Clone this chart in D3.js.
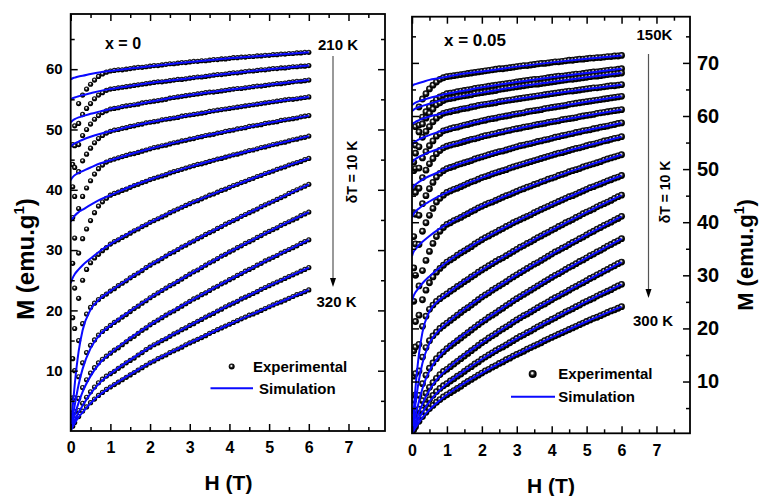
<!DOCTYPE html>
<html><head><meta charset="utf-8">
<script src="https://cdn.jsdelivr.net/npm/d3@7"></script>
<style>
body{margin:0;background:#fff}
svg text{font-family:"Liberation Sans",Arial,Helvetica,sans-serif;font-weight:bold;fill:#000}
</style>
</head><body>
<svg id="chart" width="762" height="496"></svg>
<script>
// ---------- data ----------
const EXP_H = [0.05,0.1,0.2,0.3,0.4,0.5,0.6,0.7,0.8,0.9,1.0,1.1,1.2,1.3,1.4,1.5,1.6,1.7,1.8,1.9,2.0,2.1,2.2,2.3,2.4,2.5,2.6,2.7,2.8,2.9,3.0,3.1,3.2,3.3,3.4,3.5,3.6,3.7,3.8,3.9,4.0,4.1,4.2,4.3,4.4,4.5,4.6,4.7,4.8,4.9,5.0,5.1,5.2,5.3,5.4,5.5,5.6,5.7,5.8,5.9,6.0];
const SIM_H = [0,0.05,0.1,0.2,0.3,0.5,0.75,1,1.5,2,3,4,5,6];
const X_TICKS = [0,1,2,3,4,5,6,7];
const X_MINOR = [0.5,1.5,2.5,3.5,4.5,5.5,6.5,7.5];
const YL_TICKS = [10,20,30,40,50,60];
const YL_MINOR = [5,15,25,35,45,55,65];
const YR_TICKS = [10,20,30,40,50,60,70];
const YR_MINOR = [5,15,25,35,45,55,65,75];
const LEFT_T = [210,220,230,240,250,260,270,280,290,300,310,320];
const RIGHT_T = [150,160,170,180,190,200,210,220,230,240,250,260,270,280,290,300];

// x = 0 : experimental
const expL210 = [47.5,50.6,54.3,55.7,56.7,57.5,58.2,58.8,59.2,59.5,59.7,59.8,59.9,59.9,60.0,60.1,60.2,60.3,60.3,60.4,60.5,60.6,60.6,60.7,60.8,60.9,60.9,61.0,61.1,61.1,61.2,61.3,61.3,61.4,61.4,61.5,61.6,61.6,61.7,61.7,61.8,61.9,61.9,62.0,62.0,62.1,62.1,62.2,62.2,62.3,62.3,62.4,62.4,62.5,62.5,62.6,62.6,62.7,62.7,62.8,62.8];
const expL220 = [44.2,47.3,51.0,52.5,53.5,54.3,55.1,55.7,56.1,56.5,56.7,56.8,56.9,57.0,57.1,57.2,57.3,57.4,57.5,57.6,57.7,57.8,57.9,57.9,58.0,58.1,58.2,58.3,58.3,58.4,58.5,58.6,58.7,58.7,58.8,58.9,59.0,59.1,59.1,59.2,59.3,59.4,59.4,59.5,59.6,59.7,59.7,59.8,59.9,59.9,60.0,60.1,60.1,60.2,60.2,60.3,60.4,60.4,60.5,60.5,60.6];
const expL230 = [40.5,43.7,47.5,49.0,50.0,50.9,51.7,52.3,52.8,53.1,53.4,53.5,53.6,53.8,53.9,54.0,54.1,54.2,54.4,54.5,54.6,54.7,54.8,54.9,55.0,55.2,55.3,55.4,55.5,55.6,55.7,55.8,55.9,56.0,56.1,56.2,56.2,56.3,56.4,56.5,56.6,56.7,56.8,56.8,56.9,57.0,57.1,57.2,57.2,57.3,57.4,57.5,57.6,57.6,57.7,57.8,57.9,58.0,58.0,58.1,58.2];
const expL240 = [35.4,38.9,43.0,44.8,45.9,46.9,47.8,48.5,49.0,49.4,49.7,49.9,50.0,50.2,50.3,50.5,50.6,50.8,50.9,51.1,51.2,51.3,51.4,51.6,51.7,51.8,51.9,52.0,52.2,52.3,52.4,52.5,52.6,52.7,52.8,53.0,53.1,53.2,53.3,53.4,53.5,53.6,53.7,53.8,53.9,54.0,54.1,54.2,54.3,54.4,54.5,54.6,54.7,54.8,54.9,55.0,55.0,55.1,55.2,55.3,55.4];
const expL250 = [27.8,32.0,36.9,38.9,40.3,41.5,42.6,43.5,44.1,44.6,44.9,45.1,45.3,45.5,45.7,45.9,46.0,46.2,46.4,46.6,46.8,47.0,47.1,47.3,47.4,47.6,47.8,47.9,48.1,48.2,48.4,48.5,48.7,48.8,49.0,49.1,49.2,49.4,49.5,49.7,49.8,49.9,50.1,50.2,50.3,50.5,50.6,50.7,50.8,51.0,51.1,51.2,51.3,51.5,51.6,51.7,51.8,51.9,52.1,52.2,52.3];
const expL260 = [18.8,23.7,29.5,31.9,33.5,34.9,36.2,37.3,38.0,38.6,39.1,39.4,39.6,39.9,40.1,40.4,40.7,40.9,41.2,41.4,41.7,41.9,42.1,42.3,42.5,42.8,43.0,43.2,43.4,43.6,43.8,44.0,44.2,44.3,44.5,44.7,44.9,45.1,45.2,45.4,45.6,45.8,45.9,46.1,46.3,46.5,46.6,46.8,47.0,47.1,47.3,47.5,47.6,47.8,47.9,48.1,48.3,48.4,48.6,48.7,48.9];
const expL270 = [12.0,17.0,22.0,25.0,26.8,27.9,28.7,29.3,29.9,30.4,31.0,31.4,31.7,32.1,32.4,32.8,33.2,33.5,33.9,34.2,34.6,34.9,35.2,35.5,35.8,36.2,36.5,36.8,37.1,37.4,37.7,38.0,38.2,38.5,38.8,39.1,39.3,39.6,39.9,40.1,40.4,40.7,40.9,41.2,41.4,41.7,41.9,42.2,42.4,42.7,42.9,43.1,43.4,43.6,43.8,44.1,44.3,44.5,44.7,45.0,45.2];
const expL280 = [5.5,10.0,15.0,17.8,19.4,20.5,21.2,21.8,22.3,22.7,23.2,23.6,24.1,24.5,24.9,25.4,25.8,26.2,26.6,27.1,27.5,27.9,28.2,28.6,29.0,29.4,29.7,30.1,30.5,30.8,31.2,31.5,31.9,32.2,32.6,32.9,33.2,33.6,33.9,34.3,34.6,34.9,35.2,35.6,35.9,36.2,36.5,36.8,37.2,37.5,37.8,38.1,38.4,38.7,39.0,39.4,39.7,40.0,40.3,40.6,40.9];
const expL290 = [3.0,5.5,9.0,11.3,13.0,14.2,15.1,15.9,16.5,17.0,17.5,18.0,18.4,18.9,19.3,19.8,20.3,20.7,21.2,21.6,22.1,22.5,22.9,23.3,23.7,24.1,24.4,24.8,25.2,25.6,26.0,26.4,26.7,27.1,27.5,27.9,28.2,28.6,29.0,29.3,29.7,30.0,30.4,30.7,31.1,31.4,31.7,32.1,32.4,32.8,33.1,33.4,33.7,34.1,34.4,34.7,35.0,35.3,35.7,36.0,36.3];
const expL300 = [1.7,3.2,5.4,7.2,8.5,9.6,10.5,11.3,11.9,12.4,12.9,13.4,13.8,14.3,14.8,15.3,15.7,16.2,16.7,17.1,17.6,18.0,18.4,18.8,19.2,19.6,19.9,20.3,20.7,21.1,21.5,21.9,22.2,22.6,22.9,23.3,23.7,24.0,24.4,24.7,25.1,25.4,25.8,26.1,26.5,26.8,27.1,27.5,27.8,28.2,28.5,28.8,29.1,29.5,29.8,30.1,30.4,30.7,31.1,31.4,31.7];
const expL310 = [1.2,2.0,3.4,4.6,5.6,6.5,7.3,8.0,8.6,9.1,9.5,9.9,10.4,10.8,11.3,11.7,12.1,12.6,13.0,13.5,13.9,14.3,14.6,15.0,15.3,15.7,16.1,16.4,16.8,17.1,17.5,17.8,18.2,18.5,18.9,19.2,19.5,19.9,20.2,20.6,20.9,21.2,21.5,21.9,22.2,22.5,22.8,23.1,23.5,23.8,24.1,24.4,24.7,25.0,25.3,25.6,25.9,26.2,26.5,26.8,27.1];
const expL320 = [0.8,1.4,2.4,3.3,4.0,4.7,5.3,5.9,6.4,6.9,7.3,7.7,8.1,8.5,8.9,9.3,9.7,10.1,10.5,10.9,11.3,11.6,12.0,12.3,12.6,13.0,13.3,13.6,13.9,14.3,14.6,14.9,15.2,15.5,15.8,16.2,16.5,16.8,17.1,17.4,17.7,18.0,18.3,18.6,18.9,19.2,19.4,19.7,20.0,20.3,20.6,20.9,21.2,21.4,21.7,22.0,22.3,22.6,22.8,23.1,23.4];

// x = 0 : simulation (at SIM_H)
const simL210 = [58.3,58.5,58.6,58.8,58.9,59.2,59.5,59.7,60.1,60.5,61.2,61.8,62.3,62.8];
const simL220 = [54.9,55.2,55.3,55.5,55.7,56.0,56.4,56.7,57.2,57.7,58.5,59.3,60.0,60.6];
const simL230 = [51.2,51.5,51.7,52.0,52.2,52.6,53.0,53.4,54.0,54.6,55.7,56.6,57.4,58.2];
const simL240 = [47.1,47.5,47.7,48.0,48.3,48.8,49.3,49.7,50.5,51.2,52.4,53.5,54.5,55.4];
const simL250 = [41.6,42.1,42.4,42.8,43.1,43.7,44.4,44.9,45.9,46.8,48.4,49.8,51.1,52.3];
const simL260 = [34.7,35.3,35.7,36.3,36.7,37.5,38.4,39.1,40.5,41.7,43.8,45.6,47.3,48.9];
const simL270 = [24.5,25.4,26.0,26.8,27.5,28.6,29.9,31.0,32.9,34.6,37.7,40.4,42.9,45.2];
const simL280 = [0,4.0,7.6,13.2,16.7,20.1,22.0,23.2,25.4,27.5,31.2,34.6,37.8,40.9];
const simL290 = [0,2.3,4.2,7.7,10.3,13.7,16.1,17.5,19.9,22.1,26.0,29.7,33.1,36.3];
const simL300 = [0,1.4,2.6,4.7,6.5,9.1,11.4,12.9,15.4,17.6,21.5,25.1,28.5,31.7];
const simL310 = [0,1.0,1.7,3.1,4.2,6.2,8.1,9.5,11.8,13.9,17.5,20.9,24.1,27.1];
const simL320 = [0,0.7,1.3,2.3,3.1,4.6,6.1,7.3,9.4,11.3,14.6,17.7,20.6,23.4];

// x = 0.05 : experimental
const expR150 = [54.9,58.0,61.7,63.2,64.2,65.1,65.8,66.4,66.9,67.2,67.4,67.5,67.6,67.7,67.8,67.9,68.0,68.1,68.2,68.3,68.4,68.5,68.6,68.7,68.8,68.9,68.9,69.0,69.1,69.2,69.3,69.4,69.5,69.5,69.6,69.7,69.8,69.9,69.9,70.0,70.1,70.2,70.2,70.3,70.4,70.5,70.5,70.6,70.7,70.7,70.8,70.9,70.9,71.0,71.0,71.1,71.2,71.2,71.3,71.3,71.4];
const expR160 = [51.3,54.5,58.3,59.8,60.8,61.7,62.4,63.1,63.6,63.9,64.2,64.3,64.4,64.6,64.7,64.8,64.9,65.0,65.2,65.3,65.4,65.5,65.6,65.7,65.8,65.9,66.0,66.1,66.2,66.3,66.4,66.5,66.6,66.7,66.8,66.9,66.9,67.0,67.1,67.2,67.3,67.4,67.5,67.5,67.6,67.7,67.8,67.9,67.9,68.0,68.1,68.2,68.3,68.3,68.4,68.5,68.6,68.7,68.7,68.8,68.9];
const expR170 = [49.7,53.0,57.0,58.5,59.6,60.5,61.3,62.1,62.5,62.9,63.2,63.3,63.4,63.6,63.7,63.8,63.9,64.0,64.2,64.3,64.4,64.5,64.6,64.7,64.8,65.0,65.1,65.2,65.3,65.4,65.5,65.6,65.7,65.8,65.9,66.0,66.0,66.1,66.2,66.3,66.4,66.5,66.6,66.7,66.8,66.9,66.9,67.0,67.1,67.2,67.3,67.4,67.5,67.5,67.6,67.7,67.8,67.9,67.9,68.0,68.1];
const expR180 = [46.6,50.1,54.2,56.0,57.1,58.0,58.9,59.6,60.1,60.5,60.7,60.8,61.0,61.1,61.3,61.4,61.5,61.7,61.8,62.0,62.1,62.2,62.3,62.4,62.5,62.7,62.8,62.9,63.0,63.1,63.2,63.3,63.4,63.5,63.6,63.7,63.8,63.9,64.0,64.1,64.2,64.3,64.4,64.5,64.6,64.7,64.7,64.8,64.9,65.0,65.1,65.2,65.3,65.3,65.4,65.5,65.6,65.7,65.7,65.8,65.9];
const expR190 = [41.8,45.6,50.2,52.1,53.3,54.4,55.3,56.2,56.7,57.2,57.4,57.6,57.8,57.9,58.1,58.3,58.4,58.6,58.8,58.9,59.1,59.2,59.4,59.5,59.6,59.8,59.9,60.0,60.1,60.3,60.4,60.5,60.6,60.8,60.9,61.0,61.1,61.2,61.4,61.5,61.6,61.7,61.8,61.9,62.0,62.2,62.3,62.4,62.5,62.6,62.7,62.8,62.9,63.0,63.1,63.2,63.3,63.4,63.5,63.6,63.7];
const expR200 = [37.3,41.5,46.4,48.4,49.8,51.0,52.0,52.9,53.5,54.0,54.3,54.5,54.7,54.8,55.0,55.2,55.4,55.6,55.7,55.9,56.1,56.3,56.4,56.6,56.7,56.9,57.0,57.2,57.3,57.5,57.6,57.7,57.9,58.0,58.1,58.3,58.4,58.5,58.6,58.8,58.9,59.0,59.1,59.3,59.4,59.5,59.6,59.7,59.9,60.0,60.1,60.2,60.3,60.5,60.6,60.7,60.8,60.9,61.0,61.1,61.2];
const expR210 = [31.4,35.9,41.3,43.5,45.0,46.3,47.5,48.5,49.2,49.7,50.1,50.3,50.5,50.8,51.0,51.2,51.4,51.6,51.9,52.1,52.3,52.5,52.7,52.9,53.1,53.3,53.4,53.6,53.8,54.0,54.2,54.4,54.5,54.7,54.8,55.0,55.2,55.3,55.5,55.6,55.8,56.0,56.1,56.3,56.4,56.6,56.7,56.9,57.0,57.2,57.3,57.4,57.6,57.7,57.9,58.0,58.1,58.3,58.4,58.6,58.7];
const expR220 = [25.1,30.0,35.8,38.3,39.9,41.3,42.6,43.8,44.5,45.1,45.6,45.9,46.2,46.4,46.7,47.0,47.3,47.6,47.8,48.1,48.4,48.6,48.8,49.1,49.3,49.5,49.7,49.9,50.2,50.4,50.6,50.8,51.0,51.2,51.4,51.6,51.8,52.0,52.2,52.4,52.6,52.8,53.0,53.1,53.3,53.5,53.7,53.9,54.0,54.2,54.4,54.6,54.7,54.9,55.1,55.3,55.4,55.6,55.8,55.9,56.1];
const expR230 = [15.8,21.3,28.0,30.9,32.8,34.5,36.0,37.3,38.3,39.0,39.6,39.9,40.3,40.6,40.9,41.3,41.6,42.0,42.3,42.7,43.0,43.3,43.6,43.8,44.1,44.4,44.7,45.0,45.2,45.5,45.8,46.1,46.3,46.6,46.8,47.1,47.3,47.6,47.8,48.1,48.3,48.5,48.8,49.0,49.2,49.5,49.7,49.9,50.1,50.4,50.6,50.8,51.0,51.2,51.4,51.7,51.9,52.1,52.3,52.5,52.7];
const expR240 = [11.0,16.5,22.5,25.4,27.2,28.6,29.7,30.6,31.3,31.9,32.5,32.9,33.3,33.8,34.2,34.6,35.0,35.4,35.9,36.3,36.7,37.1,37.4,37.8,38.1,38.5,38.8,39.2,39.5,39.9,40.2,40.5,40.8,41.1,41.4,41.8,42.1,42.4,42.7,43.0,43.3,43.6,43.9,44.2,44.5,44.8,45.0,45.3,45.6,45.9,46.2,46.5,46.7,47.0,47.2,47.5,47.8,48.0,48.3,48.5,48.8];
const expR250 = [6.5,11.5,17.0,20.4,22.3,23.6,24.4,25.1,25.6,26.1,26.5,27.0,27.4,27.9,28.3,28.8,29.2,29.7,30.1,30.6,31.0,31.4,31.8,32.2,32.6,33.0,33.3,33.7,34.1,34.5,34.9,35.3,35.6,36.0,36.3,36.7,37.1,37.4,37.8,38.1,38.5,38.8,39.2,39.5,39.9,40.2,40.5,40.9,41.2,41.6,41.9,42.2,42.5,42.9,43.2,43.5,43.8,44.1,44.5,44.8,45.1];
const expR260 = [4.5,7.5,12.0,14.6,16.4,17.7,18.6,19.3,20.0,20.5,21.0,21.5,22.0,22.5,23.0,23.5,23.9,24.4,24.9,25.4,25.9,26.3,26.7,27.2,27.6,28.0,28.4,28.8,29.3,29.7,30.1,30.5,30.9,31.3,31.7,32.1,32.4,32.8,33.2,33.6,34.0,34.4,34.7,35.1,35.4,35.8,36.2,36.5,36.9,37.2,37.6,38.0,38.3,38.7,39.0,39.4,39.7,40.0,40.4,40.7,41.1];
const expR270 = [2.6,4.5,7.4,9.6,11.2,12.5,13.5,14.3,15.0,15.6,16.2,16.7,17.2,17.7,18.2,18.7,19.2,19.7,20.2,20.7,21.2,21.6,22.1,22.5,22.9,23.4,23.8,24.3,24.7,25.2,25.6,26.0,26.4,26.8,27.2,27.6,28.0,28.4,28.8,29.2,29.6,30.0,30.3,30.7,31.1,31.5,31.8,32.2,32.6,32.9,33.3,33.7,34.0,34.4,34.7,35.1,35.5,35.8,36.2,36.5,36.9];
const expR280 = [1.6,2.8,4.8,6.4,7.8,8.9,9.8,10.6,11.3,11.9,12.3,12.8,13.3,13.8,14.3,14.8,15.3,15.8,16.3,16.8,17.3,17.7,18.2,18.6,19.0,19.5,19.9,20.3,20.7,21.2,21.6,22.0,22.4,22.7,23.1,23.5,23.9,24.3,24.6,25.0,25.4,25.8,26.1,26.5,26.8,27.2,27.6,27.9,28.3,28.6,29.0,29.4,29.7,30.1,30.4,30.8,31.1,31.5,31.8,32.2,32.5];
const expR290 = [1.2,2.0,3.5,4.6,5.7,6.6,7.4,8.1,8.7,9.2,9.6,10.1,10.5,11.0,11.4,11.9,12.4,12.8,13.3,13.7,14.2,14.6,15.0,15.4,15.8,16.2,16.5,16.9,17.3,17.7,18.1,18.5,18.8,19.2,19.5,19.9,20.3,20.6,21.0,21.3,21.7,22.0,22.4,22.7,23.1,23.4,23.7,24.1,24.4,24.8,25.1,25.4,25.7,26.1,26.4,26.7,27.0,27.3,27.7,28.0,28.3];
const expR300 = [0.9,1.5,2.5,3.4,4.2,4.9,5.5,6.1,6.6,7.1,7.5,7.9,8.3,8.7,9.1,9.6,10.0,10.4,10.8,11.2,11.6,12.0,12.3,12.7,13.0,13.4,13.7,14.1,14.4,14.8,15.1,15.4,15.7,16.1,16.4,16.7,17.0,17.3,17.7,18.0,18.3,18.6,18.9,19.2,19.5,19.8,20.1,20.4,20.7,21.0,21.3,21.6,21.9,22.1,22.4,22.7,23.0,23.3,23.5,23.8,24.1];

// x = 0.05 : simulation (at SIM_H)
const simR150 = [65.6,65.9,66.0,66.2,66.4,66.8,67.1,67.4,68.0,68.4,69.3,70.1,70.8,71.4];
const simR160 = [62.0,62.3,62.5,62.8,63.0,63.4,63.8,64.2,64.8,65.4,66.4,67.3,68.1,68.9];
const simR170 = [60.9,61.2,61.4,61.7,61.9,62.3,62.8,63.2,63.8,64.4,65.5,66.4,67.3,68.1];
const simR180 = [58.4,58.7,58.9,59.2,59.5,59.9,60.3,60.7,61.5,62.1,63.2,64.2,65.1,65.9];
const simR190 = [54.6,55.0,55.2,55.6,55.9,56.4,57.0,57.4,58.3,59.1,60.4,61.6,62.7,63.7];
const simR200 = [51.2,51.6,51.9,52.3,52.6,53.2,53.8,54.3,55.3,56.1,57.6,58.9,60.1,61.2];
const simR210 = [46.2,46.8,47.1,47.6,48.0,48.7,49.4,50.1,51.3,52.3,54.2,55.8,57.3,58.7];
const simR220 = [40.9,41.6,42.0,42.6,43.1,43.9,44.8,45.6,47.1,48.4,50.6,52.6,54.4,56.1];
const simR230 = [33.6,34.5,34.9,35.7,36.3,37.4,38.6,39.6,41.4,43.0,45.8,48.3,50.6,52.7];
const simR240 = [25.1,26.2,26.8,27.7,28.5,29.8,31.2,32.5,34.7,36.7,40.2,43.3,46.2,48.8];
const simR250 = [0,4.6,8.8,15.2,19.3,23.2,25.2,26.5,28.9,31.0,34.9,38.5,41.9,45.1];
const simR260 = [0,3.1,5.8,10.3,13.5,17.2,19.5,21.0,23.6,25.9,30.1,34.0,37.6,41.1];
const simR270 = [0,1.9,3.5,6.3,8.7,12.0,14.5,16.2,18.9,21.2,25.6,29.6,33.3,36.9];
const simR280 = [0,1.3,2.3,4.2,5.8,8.4,10.7,12.3,15.0,17.3,21.6,25.4,29.0,32.5];
const simR290 = [0,1.0,1.7,3.1,4.2,6.2,8.1,9.6,12.0,14.2,18.1,21.7,25.1,28.3];
const simR300 = [0,0.8,1.3,2.3,3.2,4.7,6.2,7.5,9.7,11.6,15.1,18.3,21.3,24.1];

const leftExp = [expL210,expL220,expL230,expL240,expL250,expL260,expL270,expL280,expL290,expL300,expL310,expL320];
const leftSim = [simL210,simL220,simL230,simL240,simL250,simL260,simL270,simL280,simL290,simL300,simL310,simL320];
const rightExp = [expR150,expR160,expR170,expR180,expR190,expR200,expR210,expR220,expR230,expR240,expR250,expR260,expR270,expR280,expR290,expR300];
const rightSim = [simR150,simR160,simR170,simR180,simR190,simR200,simR210,simR220,simR230,simR240,simR250,simR260,simR270,simR280,simR290,simR300];

// ---------- drawing ----------
const svg = d3.select("#chart");
svg.append("rect").attr("width",762).attr("height",496).attr("fill","#fff");
const defs = svg.append("defs");
const grad = defs.append("radialGradient").attr("id","sphere")
  .attr("cx","0.46").attr("cy","0.44").attr("r","0.58").attr("fx","0.44").attr("fy","0.4");
grad.append("stop").attr("offset","0%").attr("stop-color","#ffffff");
grad.append("stop").attr("offset","16%").attr("stop-color","#e6e6e6");
grad.append("stop").attr("offset","40%").attr("stop-color","#303030");
grad.append("stop").attr("offset","70%").attr("stop-color","#000000");
grad.append("stop").attr("offset","100%").attr("stop-color","#000000");

const BLUE = "#0a0aff";

function panel(cfg){
  const {x, y, id, yTicks, yMinor, labelSide, expArr, simArr, r, fs, yfs} = cfg;
  const [x0,x1] = x.range();
  const [y0,y1] = y.range(); // y0 bottom, y1 top
  const g = svg.append("g");
  defs.append("clipPath").attr("id","clip"+id)
    .append("rect").attr("x",x0).attr("y",y1).attr("width",x1-x0).attr("height",y0-y1);
  const plot = g.append("g").attr("clip-path","url(#clip"+id+")");

  // experimental points
  expArr.forEach(arr=>{
    plot.append("g").selectAll("circle").data(arr).join("circle")
      .attr("cx",(d,i)=>x(EXP_H[i])).attr("cy",d=>y(d)).attr("r",r)
      .attr("fill","url(#sphere)");
  });
  // simulation lines
  const line = d3.line().x((d,i)=>x(SIM_H[i])).y(d=>y(d)).curve(d3.curveMonotoneX);
  simArr.forEach(arr=>{
    plot.append("path").attr("d",line(arr)).attr("fill","none")
      .attr("stroke",BLUE).attr("stroke-width",2);
  });

  const styleAx = (sel, fsz) => {
    sel.select(".domain").remove();
    sel.selectAll(".tick line").attr("stroke","#000").attr("stroke-width",1.5);
    sel.selectAll("text").attr("font-size",fsz).attr("font-family",'"Liberation Sans",Arial,sans-serif')
      .attr("font-weight","bold").attr("fill","#000");
  };
  const fmt = d3.format("d");
  // bottom
  g.append("g").attr("transform",`translate(0,${y0})`)
    .call(d3.axisBottom(x).tickValues(X_TICKS).tickSize(-7).tickPadding(11).tickFormat(fmt))
    .call(s=>styleAx(s,fs));
  g.append("g").attr("transform",`translate(0,${y0})`)
    .call(d3.axisBottom(x).tickValues(X_MINOR).tickSize(-4).tickFormat(""))
    .call(s=>styleAx(s,fs));
  // top
  g.append("g").attr("transform",`translate(0,${y1})`)
    .call(d3.axisTop(x).tickValues(X_TICKS).tickSize(-7).tickFormat(""))
    .call(s=>styleAx(s,fs));
  g.append("g").attr("transform",`translate(0,${y1})`)
    .call(d3.axisTop(x).tickValues(X_MINOR).tickSize(-4).tickFormat(""))
    .call(s=>styleAx(s,fs));
  // left
  g.append("g").attr("transform",`translate(${x0},0)`)
    .call(d3.axisLeft(y).tickValues(yTicks).tickSize(-7).tickPadding(8).tickFormat(labelSide==="left"?fmt:""))
    .call(s=>styleAx(s,yfs));
  g.append("g").attr("transform",`translate(${x0},0)`)
    .call(d3.axisLeft(y).tickValues(yMinor).tickSize(-4).tickFormat(""))
    .call(s=>styleAx(s,yfs));
  // right
  g.append("g").attr("transform",`translate(${x1},0)`)
    .call(d3.axisRight(y).tickValues(yTicks).tickSize(-7).tickPadding(7).tickFormat(labelSide==="right"?fmt:""))
    .call(s=>styleAx(s,yfs));
  g.append("g").attr("transform",`translate(${x1},0)`)
    .call(d3.axisRight(y).tickValues(yMinor).tickSize(-4).tickFormat(""))
    .call(s=>styleAx(s,yfs));
  // frame
  g.append("rect").attr("x",x0).attr("y",y1).attr("width",x1-x0).attr("height",y0-y1)
    .attr("fill","none").attr("stroke","#000").attr("stroke-width",1.8);
  return g;
}

const xL = d3.scaleLinear().domain([0,7.92]).range([70.7,385]);
const yL = d3.scaleLinear().domain([0,69.15]).range([431,14]);
const xR = d3.scaleLinear().domain([0,7.96]).range([412,690]);
const yR = d3.scaleLinear().domain([0.25,78.7]).range([433.3,16.7]);

panel({x:xL,y:yL,id:"L",yTicks:YL_TICKS,yMinor:YL_MINOR,labelSide:"left",expArr:leftExp,simArr:leftSim,r:2.6,fs:16,yfs:15});
panel({x:xR,y:yR,id:"R",yTicks:YR_TICKS,yMinor:YR_MINOR,labelSide:"right",expArr:rightExp,simArr:rightSim,r:3.4,fs:16,yfs:20});

// ---------- annotations ----------
function txt(x,y,s,size,anchor,rot){
  const t = svg.append("text").attr("font-size",size).attr("text-anchor",anchor||"start").text(s);
  if(rot){ t.attr("transform",`translate(${x},${y}) rotate(${rot})`); }
  else { t.attr("x",x).attr("y",y); }
  return t;
}
function arrow(x,ya,yb){
  svg.append("line").attr("x1",x).attr("x2",x).attr("y1",ya).attr("y2",yb-7)
    .attr("stroke","#555").attr("stroke-width",1.2);
  svg.append("path").attr("d",`M${x-3},${yb-9}L${x+3},${yb-9}L${x},${yb}Z`).attr("fill","#000");
}
// left panel
txt(105,48.5,"x = 0",16);
txt(318,50,"210 K",15);
arrow(333,56,287);
txt(356.5,172,"δT = 10 K",14,"middle",-90);
txt(316.5,306.5,"320 K",15);
// right panel
txt(444,46,"x = 0.05",17);
txt(636.5,40,"150K",15);
arrow(648.5,54,298);
txt(670,192,"δT = 10 K",14,"middle",-90);
txt(633,325.5,"300 K",15);

// legends
svg.append("circle").attr("cx",231.7).attr("cy",366.5).attr("r",3).attr("fill","url(#sphere)");
txt(253,371.8,"Experimental",15);
svg.append("line").attr("x1",210.5).attr("x2",253).attr("y1",388.3).attr("y2",388.3).attr("stroke",BLUE).attr("stroke-width",2);
txt(259,393.6,"Simulation",15);

svg.append("circle").attr("cx",532.7).attr("cy",374).attr("r",4).attr("fill","url(#sphere)");
txt(558.3,379.3,"Experimental",15);
svg.append("line").attr("x1",511).attr("x2",555).attr("y1",396.7).attr("y2",396.7).attr("stroke",BLUE).attr("stroke-width",2);
txt(558.3,402,"Simulation",15);

// axis titles
txt(228.5,490,"H (T)",21,"middle");
txt(551,493,"H (T)",21,"middle");
function yTitle(x,y,fsz){
  const t = svg.append("text").attr("font-size",fsz).attr("text-anchor","middle")
    .attr("transform",`translate(${x},${y}) rotate(-90)`);
  t.append("tspan").text("M (emu.g");
  t.append("tspan").attr("font-size",Math.round(fsz*0.62)).attr("dy",-Math.round(fsz*0.42)).text("1");
  t.append("tspan").attr("dy",Math.round(fsz*0.42)).text(")");
}
yTitle(34,259,24);
yTitle(753,255,22);
</script>
</body></html>
